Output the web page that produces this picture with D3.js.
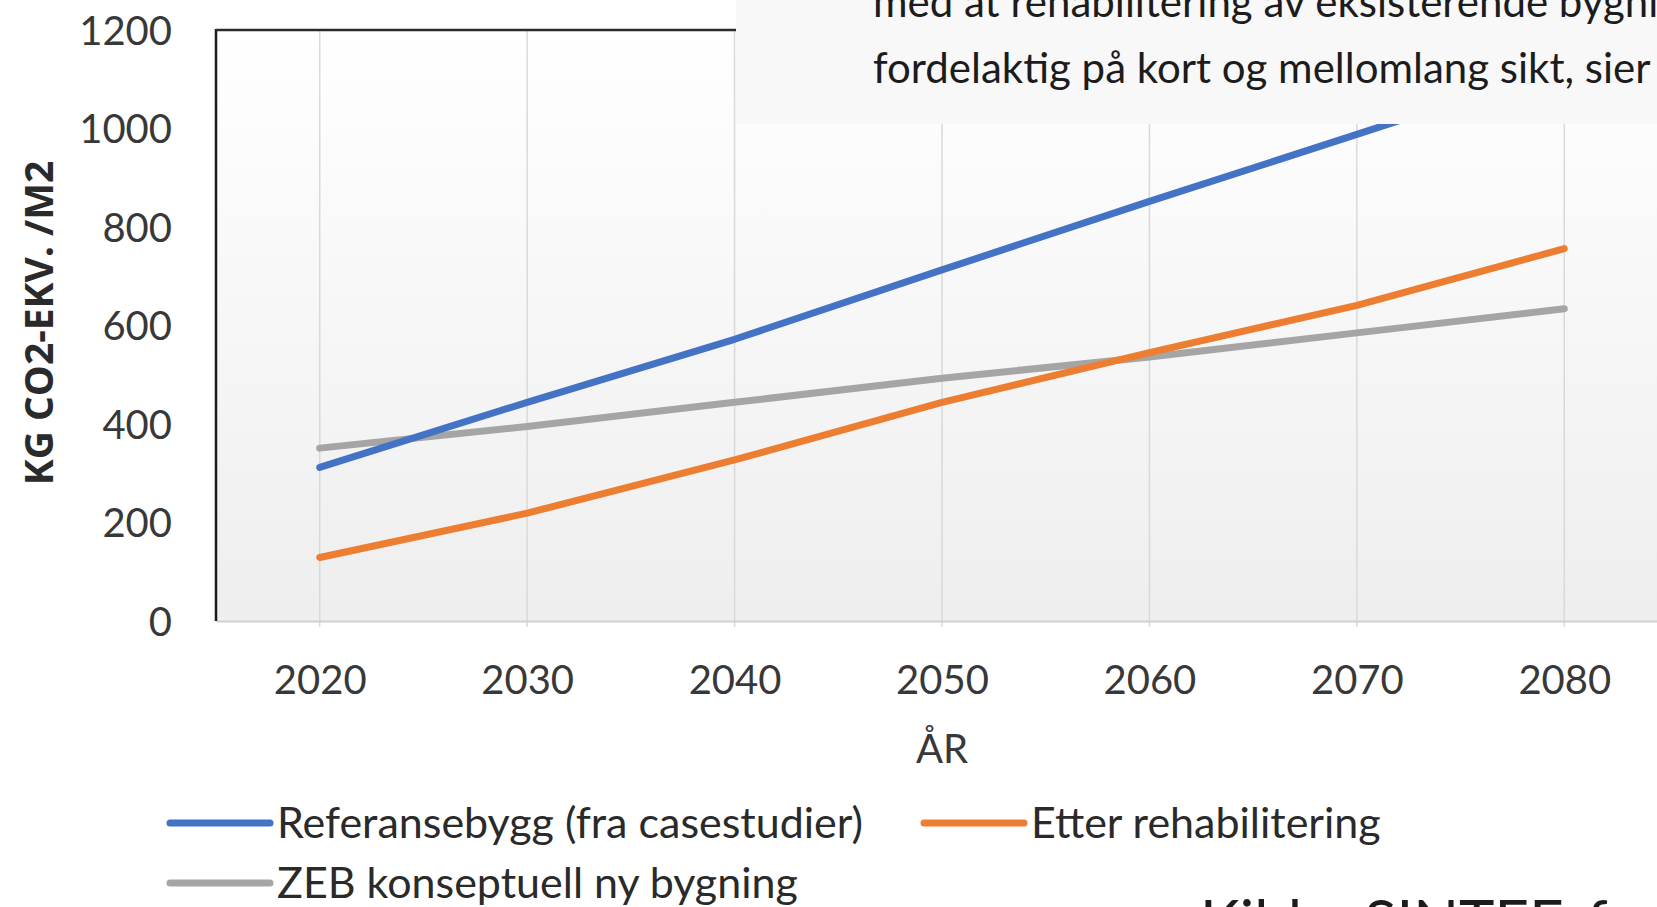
<!DOCTYPE html>
<html>
<head>
<meta charset="utf-8">
<script src="https://cdn.jsdelivr.net/npm/d3@7"></script>
<style>
  body { margin: 0; background: #fff; overflow: hidden; }
  svg { display: block; }
  text { font-family: Lato, "Open Sans", sans-serif; }
</style>
</head>
<body>
<div class="chart"></div>
<script>
// data
var years = [2020, 2030, 2040, 2050, 2060, 2070, 2080];
var referanse = [312, 444, 572, 713, 852, 988, 1125];
var rehab = [129, 219, 327, 444, 545, 641, 756];
var zeb = [351, 395, 444, 493, 536, 585, 634];
var yTicks = [0, 200, 400, 600, 800, 1000, 1200];
var seriesNames = ["Referansebygg (fra casestudier)", "Etter rehabilitering", "ZEB konseptuell ny bygning"];
var seriesColors = ["#4472C4", "#ED7D31", "#A5A5A5"];

var W = 1657, H = 907;
var plot = {left: 216, top: 30, right: 1668, bottom: 621};

var svg = d3.select(".chart").append("svg")
  .attr("width", W)
  .attr("height", H);

var defs = svg.append("defs");
var grad = defs.append("linearGradient")
  .attr("id", "bg")
  .attr("x1", 0).attr("y1", 0).attr("x2", 0).attr("y2", 1);
grad.append("stop").attr("offset", "0%").attr("stop-color", "#ffffff");
grad.append("stop").attr("offset", "100%").attr("stop-color", "#eeeeee");

var x = d3.scalePoint()
  .domain(years)
  .range([plot.left, plot.right])
  .padding(0.5);
var y = d3.scaleLinear()
  .domain([0, 1200])
  .range([plot.bottom, plot.top]);

// plot background
svg.append("rect")
  .attr("x", plot.left)
  .attr("y", plot.top)
  .attr("width", plot.right - plot.left)
  .attr("height", plot.bottom - plot.top)
  .attr("fill", "url(#bg)");

// vertical gridlines (run a little below the axis like ticks)
svg.append("g")
  .selectAll("line")
  .data(years)
  .enter().append("line")
  .attr("x1", function(d) { return x(d); })
  .attr("x2", function(d) { return x(d); })
  .attr("y1", plot.top)
  .attr("y2", plot.bottom + 6)
  .attr("stroke", "#d9d9d9")
  .attr("stroke-width", 1.5);

// x axis
var xAxis = svg.append("g")
  .attr("transform", "translate(0," + plot.bottom + ")")
  .call(d3.axisBottom(x).tickSize(0).tickPadding(73));
xAxis.select(".domain").attr("stroke", "#d0d0d0").attr("stroke-width", 2);
xAxis.selectAll("text")
  .attr("font-size", 40)
  .attr("fill", "#383838")
  .attr("dy", 0);

// y axis
var yAxis = svg.append("g")
  .attr("transform", "translate(" + plot.left + ",0)")
  .call(d3.axisLeft(y).tickValues(yTicks).tickFormat(d3.format("d")).tickSize(0).tickPadding(44));
yAxis.select(".domain").remove();
yAxis.selectAll("text")
  .attr("font-size", 40)
  .attr("fill", "#383838")
  .attr("dy", "0.36em");

// black frame on left and top
svg.append("line")
  .attr("x1", plot.left).attr("x2", plot.left)
  .attr("y1", plot.top - 1).attr("y2", plot.bottom)
  .attr("stroke", "#1a1a1a").attr("stroke-width", 2.5);
svg.append("line")
  .attr("x1", plot.left).attr("x2", plot.right)
  .attr("y1", plot.top).attr("y2", plot.top)
  .attr("stroke", "#2a2a2a").attr("stroke-width", 2.5);

// lines
var line = d3.line()
  .x(function(d, i) { return x(years[i]); })
  .y(function(d) { return y(d); });

var allSeries = [referanse, rehab, zeb];
svg.append("g")
  .selectAll("path")
  .data([zeb, rehab, referanse])
  .enter().append("path")
  .attr("d", line)
  .attr("fill", "none")
  .attr("stroke", function(d) { return seriesColors[allSeries.indexOf(d)]; })
  .attr("stroke-width", 7)
  .attr("stroke-linejoin", "round")
  .attr("stroke-linecap", "round");

// axis titles
svg.append("text")
  .attr("x", 942)
  .attr("y", 763)
  .attr("text-anchor", "middle")
  .attr("font-size", 40)
  .attr("fill", "#383838")
  .text("ÅR");

svg.append("text")
  .attr("transform", "translate(53,323) rotate(-90)")
  .attr("text-anchor", "middle")
  .style("font-family", "'Open Sans', sans-serif")
  .attr("font-weight", 700)
  .attr("font-size", 39)
  .attr("fill", "#2a2a2a")
  .text("KG CO2-EKV. /M2");

// legend
var legendPos = [{x: 167, y: 823}, {x: 921, y: 823}, {x: 167, y: 883}];
var legend = svg.append("g")
  .selectAll("g")
  .data(seriesNames)
  .enter().append("g")
  .attr("transform", function(d, i) { return "translate(" + legendPos[i].x + "," + legendPos[i].y + ")"; });
legend.append("line")
  .attr("x1", 3).attr("x2", 103)
  .attr("y1", 0).attr("y2", 0)
  .attr("stroke", function(d, i) { return seriesColors[i]; })
  .attr("stroke-width", 7)
  .attr("stroke-linecap", "round");
legend.append("text")
  .attr("x", 110)
  .attr("y", 0)
  .attr("dy", "0.36em")
  .attr("font-size", 43)
  .attr("fill", "#2a2a2a")
  .text(function(d) { return d; });

// article text box laid over the chart
svg.append("rect")
  .attr("x", 736)
  .attr("y", 0)
  .attr("width", W - 736)
  .attr("height", 124)
  .attr("fill", "#f8f8f8");
svg.append("text")
  .attr("x", 873)
  .attr("y", 17)
  .attr("font-size", 42)
  .attr("fill", "#1c1c1c")
  .text("med at rehabilitering av eksisterende bygninger er");
svg.append("text")
  .attr("x", 873)
  .attr("y", 83)
  .attr("font-size", 42)
  .attr("fill", "#1c1c1c")
  .text("fordelaktig på kort og mellomlang sikt, sier");

// caption cut off at the bottom
svg.append("text")
  .attr("x", 1200)
  .attr("y", 943)
  .attr("font-size", 60)
  .attr("fill", "#1c1c1c")
  .text("Kilde: SINTEF, fra rapporten");
</script>
</body>
</html>
